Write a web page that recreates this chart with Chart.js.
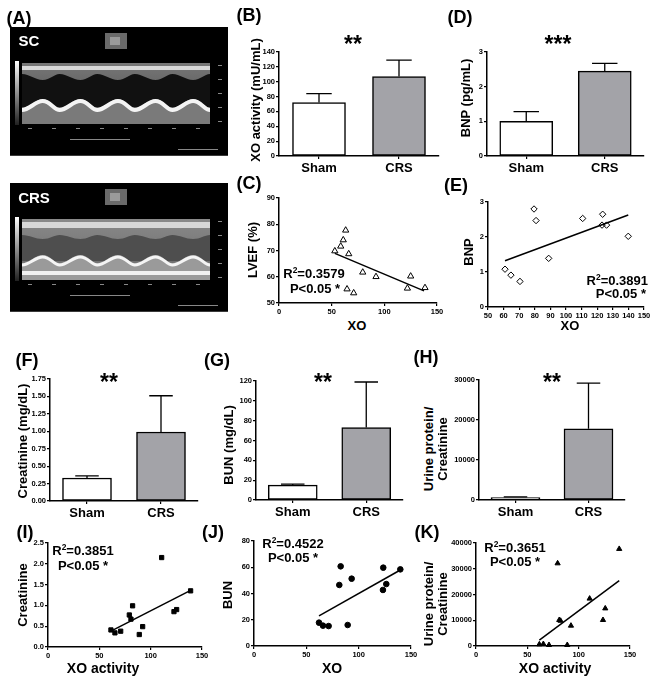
<!DOCTYPE html>
<html>
<head>
<meta charset="utf-8">
<script src="https://cdn.jsdelivr.net/npm/chart.js@4.4.1/dist/chart.umd.min.js"></script>
<style>
body { margin: 0; background: #fff; }
#fig { position: relative; width: 658px; height: 685px; overflow: hidden;
       font-family: "Liberation Sans", Arial, sans-serif; font-weight: bold; color: #000; }
#fig canvas { position: absolute; }
.t { position: absolute; white-space: nowrap; line-height: 1; transform: translate(-50%, -50%); }
.t.ra { transform: translate(-100%, -50%); }
.t.yt { transform: translate(-50%, -50%) rotate(-90deg); }
.pl { font-size: 18px; }
.ax { font-size: 13px; }
.xl { font-size: 14px; }
.st { font-size: 23px; }
.rr { font-size: 13px; }
.img { font-size: 15px; color: #fff; }
sup { font-size: 0.65em; vertical-align: 0.5em; line-height: 0; }
</style>
</head>
<body>
<div id="fig"></div>
<script>
// ---- bar panels (mean, error above mean) ----
const groups = ['Sham', 'CRS'];
const xoMean = [72, 107], xoErr = [12, 22];
const bnpMean = [1.0, 2.45], bnpErr = [0.28, 0.22];
const creMean = [0.33, 0.99], creErr = [0.03, 0.52];
const bunMean = [15, 73], bunErr = [1, 46];
const upcrMean = [600, 17800], upcrErr = [200, 11400];

// ---- correlation panels ----
const xoC = [53, 58.6, 61, 63.3, 66.2, 64.6, 70.9, 79.5, 92.1, 121.9, 125, 138.6];
const lvefC = [69.8, 71.6, 74, 77.7, 68.7, 55.3, 53.8, 61.7, 60, 55.6, 60.2, 55.8];
const fitXC = [53, 137.7], fitYC = [68.9, 54.6];

const xoE = [60.9, 64.7, 70.5, 79.5, 80.8, 88.9, 110.7, 123.1, 123.5, 126, 139.9];
const bnpE = [1.08, 0.91, 0.73, 2.8, 2.47, 1.39, 2.53, 2.34, 2.65, 2.34, 2.02];
const fitXE = [60.9, 139.9], fitYE = [1.32, 2.63];

const xoI = [61.3, 65.2, 70.8, 79.2, 80.8, 82.4, 88.9, 92.2, 110.7, 122.7, 125.3, 138.9];
const creI = [0.41, 0.34, 0.38, 0.77, 0.67, 0.99, 0.30, 0.49, 2.15, 0.85, 0.90, 1.35];
const fitXI = [61.3, 138.9], fitYI = [0.38, 1.36];

const xoJ = [62.1, 65.9, 71.3, 81.5, 82.8, 89.5, 93.3, 123.5, 123.2, 126.4, 139.8];
const bunJ = [17.8, 15.5, 15.2, 46.5, 60.7, 16, 51.3, 59.7, 42.7, 47.2, 58.4];
const fitXJ = [62.1, 139.8], fitYJ = [22.9, 57.9];

const xoK = [61.7, 65.6, 71.1, 79.5, 81.1, 82.4, 88.9, 92.5, 110.7, 123.7, 125.9, 139.5];
const upcrK = [650, 780, 390, 32100, 10100, 9800, 390, 7900, 18400, 10100, 14600, 37700];
const fitXK = [61.7, 139.5], fitYK = [2300, 25400];

// ---- tick labels ----
const ticksXO = [0, 20, 40, 60, 80, 100, 120, 140];
const ticksBNP = [0, 1, 2, 3];
const ticksCre = [0, 0.25, 0.5, 0.75, 1, 1.25, 1.5, 1.75];
const ticksBUN = [0, 20, 40, 60, 80, 100, 120];
const ticksUPCR = [0, 10000, 20000, 30000];
const ticksLVEF = [50, 60, 70, 80, 90];
const ticksX150 = [0, 50, 100, 150];
const ticksX50 = [50, 60, 70, 80, 90, 100, 110, 120, 130, 140, 150];
const ticksCreI = [0, 0.5, 1, 1.5, 2, 2.5];
const ticksBunJ = [0, 20, 40, 60, 80];
const ticksUpcrK = [0, 10000, 20000, 30000, 40000];

Chart.defaults.font.family = '"Liberation Sans", Arial, sans-serif';
Chart.defaults.font.weight = 'bold';
Chart.defaults.color = '#000';
Chart.defaults.animation = false;
Chart.defaults.plugins.legend.display = false;
Chart.defaults.plugins.tooltip.enabled = false;

const fig = document.getElementById('fig');

// canvas placed so that the chart area lands on [L,R]x[T,B]
function makeCanvas(a, m) {
    const c = document.createElement('canvas');
    const left = a.L - m.l, top = a.T - m.t;
    const w = a.R - left + m.r, h = a.B - top + m.b;
    c.width = w; c.height = h;
    c.style.left = left + 'px'; c.style.top = top + 'px';
    c.style.width = w + 'px'; c.style.height = h + 'px';
    fig.appendChild(c);
    return c;
}

function numAxis(list, dec, m, isX) {
    return {
        type: 'linear',
        min: list[0], max: list[list.length - 1],
        border: { display: true, color: '#000', width: 1.5 },
        grid: { display: true, drawOnChartArea: false, color: '#000', lineWidth: 1.2, tickLength: 3 },
        ticks: { font: { size: 7.5, weight: 'bold' }, color: '#000', padding: 1,
                 autoSkip: false, maxRotation: 0, minRotation: 0,
                 callback: v => v.toFixed(dec) },
        afterBuildTicks: s => { s.ticks = list.map(v => ({ value: v })); },
        afterFit: s => { if (isX) s.height = m.b; else s.width = m.l; }
    };
}

const errorBars = {
    id: 'errorBars',
    afterDatasetsDraw(chart) {
        const ctx = chart.ctx, y = chart.scales.y;
        const ds = chart.data.datasets[0];
        const meta = chart.getDatasetMeta(0);
        ctx.save();
        ctx.strokeStyle = '#000';
        ctx.lineWidth = 1.3;
        ds.data.forEach((v, i) => {
            const bar = meta.data[i];
            const half = bar.width * 0.24;
            const top = y.getPixelForValue(v + ds.err[i]);
            const base = y.getPixelForValue(v);
            ctx.beginPath();
            ctx.moveTo(bar.x, base); ctx.lineTo(bar.x, top);
            ctx.moveTo(bar.x - half, top); ctx.lineTo(bar.x + half, top);
            ctx.stroke();
        });
        ctx.restore();
    }
};

function barPanel(a, mean, err, yTicks, dec, thick) {
    const m = { l: 30, t: 10, r: 8, b: 26 };
    const c = makeCanvas(a, m);
    new Chart(c, {
        type: 'bar',
        data: {
            labels: groups,
            datasets: [{
                data: mean, err: err,
                backgroundColor: ['#ffffff', '#a3a3a8'],
                borderColor: '#000', borderWidth: 1.5, borderSkipped: false,
                barThickness: thick
            }]
        },
        options: {
            responsive: false,
            layout: { padding: { top: m.t, right: m.r, left: 0, bottom: 0 } },
            scales: {
                x: {
                    border: { display: true, color: '#000', width: 1.5 },
                    grid: { display: true, drawOnChartArea: false, offset: false, color: '#000', lineWidth: 1.2, tickLength: 3 },
                    ticks: { font: { size: 13, weight: 'bold' }, color: '#000', padding: 2 },
                    afterFit: s => { s.height = m.b; }
                },
                y: numAxis(yTicks, dec, m, false)
            }
        },
        plugins: [errorBars]
    });
}

function pts(xs, ys) { return xs.map((x, i) => ({ x: x, y: ys[i] })); }

function scatterPanel(a, xs, ys, fx, fy, xTicks, yTicks, dec, marker) {
    const m = { l: 30, t: 10, r: 10, b: 14 };
    const c = makeCanvas(a, m);
    new Chart(c, {
        type: 'scatter',
        data: {
            datasets: [
                Object.assign({ data: pts(xs, ys), clip: false, borderColor: '#000', borderWidth: 1 }, marker),
                { data: pts(fx, fy), showLine: true, pointRadius: 0, borderColor: '#000', borderWidth: 1.5, clip: false }
            ]
        },
        options: {
            responsive: false,
            layout: { padding: { top: m.t, right: m.r, left: 0, bottom: 0 } },
            scales: {
                x: numAxis(xTicks, 0, m, true),
                y: numAxis(yTicks, dec, m, false)
            }
        }
    });
}

// panel A: echo M-mode stills (drawn decoration, not data)
function wavePath(ctx, x0, w, beats, yA, yB) {
    const bw = w / beats;
    ctx.moveTo(x0, yA);
    for (let k = 0; k < beats; k++) {
        const bx = x0 + k * bw;
        ctx.bezierCurveTo(bx + bw * 0.2, yA, bx + bw * 0.35, yB, bx + bw * 0.55, yB);
        ctx.bezierCurveTo(bx + bw * 0.75, yB, bx + bw * 0.85, yA, bx + bw, yA);
    }
}

function drawEcho(ctx, ox, oy, crs) {
    ctx.fillStyle = '#000';
    ctx.fillRect(ox, oy, 218, 129);
    ctx.fillStyle = '#3a3a3a';
    ctx.fillRect(ox, oy + 128, 218, 1);
    const cb = ctx.createLinearGradient(0, oy + 34, 0, oy + 98);
    cb.addColorStop(0, '#ffffff'); cb.addColorStop(1, '#202020');
    ctx.fillStyle = cb;
    ctx.fillRect(ox + 5, oy + 34, 4, 64);
    ctx.fillStyle = '#6a6a6a';
    ctx.fillRect(ox + 95, oy + 6, 22, 16);
    ctx.fillStyle = '#9a9a9a';
    ctx.fillRect(ox + 100, oy + 10, 10, 8);
    const mx = ox + 12, my = oy + 36, mw = 188, mh = 61;
    const g = ctx.createLinearGradient(0, my, 0, my + mh);
    g.addColorStop(0, crs ? '#8a8a8a' : '#777');
    g.addColorStop(1, crs ? '#666' : '#4a4a4a');
    ctx.fillStyle = g;
    ctx.fillRect(mx, my, mw, mh);
    ctx.fillStyle = '#d8d8d8';
    ctx.fillRect(mx, my + 3, mw, crs ? 6 : 4);
    // cavity between septum and posterior wall
    ctx.save();
    ctx.beginPath();
    ctx.rect(mx, my, mw, mh);
    ctx.clip();
    ctx.beginPath();
    if (!crs) {
        wavePath(ctx, mx, mw, 5, my + 11, my + 17);
        ctx.lineTo(mx + mw, my + 44);
        ctx.lineTo(mx, my + 44);
    } else {
        wavePath(ctx, mx, mw, 5, my + 16, my + 20);
        ctx.lineTo(mx + mw, my + 42);
        ctx.lineTo(mx, my + 42);
    }
    ctx.closePath();
    ctx.fillStyle = crs ? '#4e4e4e' : '#111';
    ctx.fill();
    ctx.beginPath();
    if (!crs) wavePath(ctx, mx, mw, 5, my + 45, my + 36);
    else wavePath(ctx, mx, mw, 5, my + 44, my + 36);
    ctx.lineTo(mx + mw, my + mh);
    ctx.lineTo(mx, my + mh);
    ctx.closePath();
    ctx.fillStyle = crs ? '#9a9a9a' : '#7a7a7a';
    ctx.fill();
    ctx.strokeStyle = '#f4f4f4';
    ctx.lineWidth = crs ? 3 : 4;
    ctx.beginPath();
    if (!crs) wavePath(ctx, mx, mw, 5, my + 47, my + 38);
    else wavePath(ctx, mx, mw, 5, my + 46, my + 38);
    ctx.stroke();
    if (crs) {
        ctx.fillStyle = '#f0f0f0';
        ctx.fillRect(mx, my + 52, mw, 4);
    }
    ctx.restore();
    ctx.fillStyle = '#888';
    for (let k = 0; k < 8; k++) ctx.fillRect(mx + 6 + k * 24, my + mh + 4, 4, 1);
    for (let k = 0; k < 5; k++) ctx.fillRect(ox + 208, my + 2 + k * 14, 4, 1);
    ctx.fillRect(ox + 60, oy + 112, 60, 1);
    ctx.fillRect(ox + 168, oy + 122, 40, 1);
}

const ca = document.createElement('canvas');
ca.width = 218; ca.height = 290;
ca.style.left = '10px'; ca.style.top = '27px';
ca.style.width = '218px'; ca.style.height = '290px';
fig.appendChild(ca);
const actx = ca.getContext('2d');
drawEcho(actx, 0, 0, false);
drawEcho(actx, 0, 156, true);

// chart panels
barPanel({ L: 279, R: 439, T: 52, B: 156 }, xoMean, xoErr, ticksXO, 0, 53);
barPanel({ L: 487, R: 644, T: 52, B: 156 }, bnpMean, bnpErr, ticksBNP, 0, 53);
barPanel({ L: 50, R: 198, T: 379, B: 501 }, creMean, creErr, ticksCre, 2, 49);
barPanel({ L: 256, R: 403, T: 381, B: 500 }, bunMean, bunErr, ticksBUN, 0, 49);
barPanel({ L: 479, R: 625, T: 380, B: 500 }, upcrMean, upcrErr, ticksUPCR, 0, 49);

const openTri = { pointStyle: 'triangle', pointRadius: 3.6, backgroundColor: 'rgba(0,0,0,0)' };
const openDia = { pointStyle: 'rectRot', pointRadius: 3.2, backgroundColor: 'rgba(0,0,0,0)' };
const fillSq = { pointStyle: 'rect', pointRadius: 3, backgroundColor: '#000' };
const fillDot = { pointStyle: 'circle', pointRadius: 2.8, backgroundColor: '#000' };
const fillTri = { pointStyle: 'triangle', pointRadius: 3, backgroundColor: '#000' };

scatterPanel({ L: 279, R: 437, T: 198, B: 303 }, xoC, lvefC, fitXC, fitYC, ticksX150, ticksLVEF, 0, openTri);
scatterPanel({ L: 488, R: 644, T: 202, B: 307 }, xoE, bnpE, fitXE, fitYE, ticksX50, ticksBNP, 0, openDia);
scatterPanel({ L: 48, R: 202, T: 543, B: 647 }, xoI, creI, fitXI, fitYI, ticksX150, ticksCreI, 1, fillSq);
scatterPanel({ L: 254, R: 411, T: 541, B: 646 }, xoJ, bunJ, fitXJ, fitYJ, ticksX150, ticksBunJ, 0, fillDot);
scatterPanel({ L: 476, R: 630, T: 543, B: 646 }, xoK, upcrK, fitXK, fitYK, ticksX150, ticksUpcrK, 0, fillTri);

// text: [html, x, y, classes]
const texts = [
    ['(A)', 19, 18, 'pl'], ['(B)', 249, 15, 'pl'], ['(D)', 460, 17, 'pl'],
    ['(C)', 249, 183, 'pl'], ['(E)', 456, 185, 'pl'],
    ['(F)', 27, 360, 'pl'], ['(G)', 217, 360, 'pl'], ['(H)', 426, 357, 'pl'],
    ['(I)', 25, 532, 'pl'], ['(J)', 213, 532, 'pl'], ['(K)', 427, 532, 'pl'],
    ['SC', 29, 40, 'img'], ['CRS', 34, 197, 'img'],
    ['**', 353, 44, 'st'], ['***', 558, 44, 'st'],
    ['**', 109, 382, 'st'], ['**', 323, 382, 'st'], ['**', 552, 382, 'st'],
    ['XO activity (mU/mL)', 255, 100, 'ax yt'], ['BNP (pg/mL)', 465, 98, 'ax yt'],
    ['LVEF (%)', 252, 250, 'ax yt'], ['BNP', 468, 252, 'ax yt'],
    ['Creatinine (mg/dL)', 22, 441, 'ax yt'], ['BUN (mg/dL)', 228, 445, 'ax yt'],
    ['Urine protein/', 428, 449, 'ax yt'], ['Creatinine', 442, 449, 'ax yt'],
    ['Creatinine', 22, 595, 'ax yt'], ['BUN', 227, 595, 'ax yt'],
    ['Urine protein/', 428, 604, 'ax yt'], ['Creatinine', 442, 604, 'ax yt'],
    ['XO', 357, 325, 'ax'], ['XO', 570, 325, 'ax'],
    ['XO activity', 103, 668, 'xl'], ['XO', 332, 668, 'xl'], ['XO activity', 555, 668, 'xl'],
    ['R<sup>2</sup>=0.3579', 314, 273, 'rr'], ['P&lt;0.05 *', 315, 288, 'rr'],
    ['R<sup>2</sup>=0.3891', 648, 280, 'rr ra'], ['P&lt;0.05 *', 646, 293, 'rr ra'],
    ['R<sup>2</sup>=0.3851', 83, 550, 'rr'], ['P&lt;0.05 *', 83, 565, 'rr'],
    ['R<sup>2</sup>=0.4522', 293, 543, 'rr'], ['P&lt;0.05 *', 293, 557, 'rr'],
    ['R<sup>2</sup>=0.3651', 515, 547, 'rr'], ['P&lt;0.05 *', 515, 561, 'rr']
];
texts.forEach(([html, x, y, cls]) => {
    const d = document.createElement('div');
    d.className = 't ' + cls;
    d.innerHTML = html;
    d.style.left = x + 'px';
    d.style.top = y + 'px';
    fig.appendChild(d);
});
</script>
</body>
</html>
